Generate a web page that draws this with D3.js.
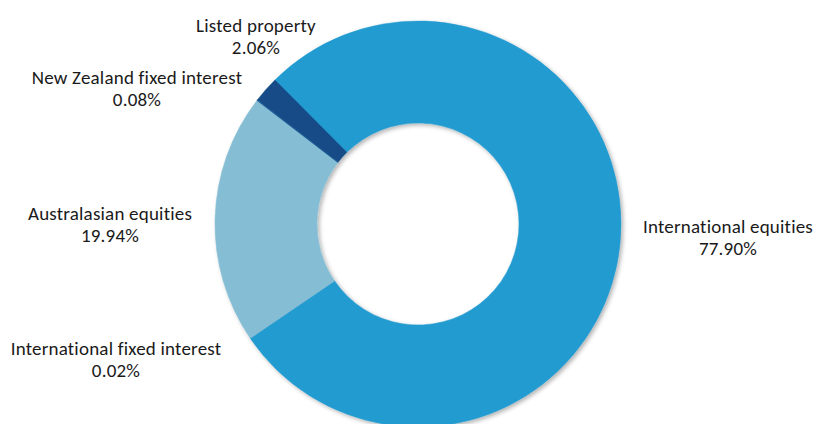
<html>
<head>
    <meta charset="utf-8">
    <title>Asset allocation</title>
    <script src="https://d3js.org/d3.v7.min.js" charset="utf-8"></script>
    <style>
        body { margin: 0; background: #fff; }
        text { font-family: Carlito, Calibri, Lato, sans-serif; font-size: 19px; letter-spacing: 0.2px; font-variant-ligatures: none; fill: #1a1a1a; }
    </style>
</head>
<body>
    <div id="chart"></div>
    <script>
        // data, in the order the slices run clockwise
        const categories = ["International equities", "International fixed interest", "Australasian equities", "New Zealand fixed interest", "Listed property"];
        const values = [77.90, 0.02, 19.94, 0.08, 2.06];
        const valueLabels = ["77.90%", "0.02%", "19.94%", "0.08%", "2.06%"];
        const colors = ["#249bd0", "#249bd0", "#85bdd4", "#1a5a95", "#124c88"];

        let width = 816,
            height = 424,
            cx = 418,
            cy = 224,
            outerR = 203,
            innerR = 101,
            startDeg = -44.8;

        // label anchor (centre x, baseline of first line)
        const labelPos = [[728, 233], [116, 355], [110, 220], [137, 84], [256, 32]];

        const svg = d3.select("#chart")
            .append("svg")
            .attr("width", width)
            .attr("height", height);

        const defs = svg.append("defs");
        defs.append("filter")
            .attr("id", "shadow")
            .attr("x", "-10%").attr("y", "-10%")
            .attr("width", "130%").attr("height", "130%")
            .append("feDropShadow")
            .attr("dx", 2).attr("dy", 2)
            .attr("stdDeviation", 2)
            .attr("flood-color", "#000")
            .attr("flood-opacity", 0.3);

        const rows = categories.map((c, i) => ({name: c, value: values[i], label: valueLabels[i], color: colors[i], pos: labelPos[i]}));

        const start = startDeg * Math.PI / 180;
        const pie = d3.pie()
            .sort(null)
            .value(d => d.value)
            .startAngle(start)
            .endAngle(start + 2 * Math.PI);

        const arc = d3.arc()
            .innerRadius(innerR)
            .outerRadius(outerR);

        svg.append("g")
            .attr("transform", `translate(${cx},${cy})`)
            .attr("filter", "url(#shadow)")
            .selectAll("path")
            .data(pie(rows))
            .enter()
            .append("path")
            .attr("d", arc)
            .style("fill", d => d.data.color)
            .style("stroke", d => d.data.color)
            .style("stroke-width", 0.5);

        const labels = svg.append("g")
            .selectAll("text")
            .data(rows)
            .enter()
            .append("text")
            .attr("text-anchor", "middle")
            .attr("x", d => d.pos[0])
            .attr("y", d => d.pos[1]);

        labels.append("tspan")
            .attr("x", d => d.pos[0])
            .text(d => d.name);
        labels.append("tspan")
            .attr("x", d => d.pos[0])
            .attr("dy", 22)
            .text(d => d.label);
    </script>
</body>
</html>
